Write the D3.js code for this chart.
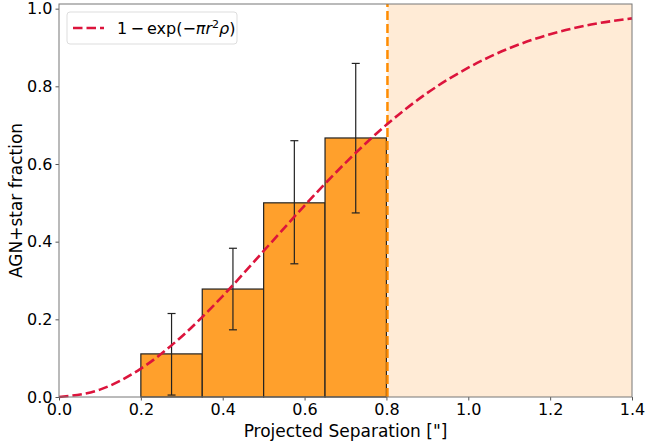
<!DOCTYPE html>
<html>
<head>
<meta charset="utf-8">
<script src="https://cdn.jsdelivr.net/npm/d3@7"></script>
<style>
  body { margin: 0; background: #fff; }
  svg text { font-family: "DejaVu Sans", sans-serif; fill: #000; }
</style>
</head>
<body>
<div class="chart"></div>
<script>
// Histogram bins (projected separation, arcsec)
var bin_edges = [0.2, 0.35, 0.5, 0.65, 0.8];
var bin_fraction = [0.111, 0.278, 0.5, 0.667];
var err_low = [0.005, 0.173, 0.343, 0.474];
var err_high = [0.215, 0.383, 0.66, 0.859];

// Chance-alignment curve
var curve_r = [0, 0.1, 0.2, 0.3, 0.4, 0.5, 0.6, 0.7, 0.8, 0.9, 1.0, 1.1, 1.2, 1.3, 1.4];
var curve_f = [0, 0.019, 0.073, 0.156, 0.26, 0.376, 0.493, 0.603, 0.701, 0.783, 0.848, 0.898, 0.934, 0.959, 0.975];

var cut_r = 0.8025; // resolution limit
var x_ticks = [0.0, 0.2, 0.4, 0.6, 0.8, 1.0, 1.2, 1.4];
var y_ticks = [0.0, 0.2, 0.4, 0.6, 0.8, 1.0];

var W = 648, H = 445;
var M = {left: 59, right: 16, top: 4, bottom: 48};

var svg = d3.select(".chart").append("svg")
    .attr("width", W)
    .attr("height", H);

var x = d3.scaleLinear().domain([0, 1.4]).range([M.left, W - M.right]);
var y = d3.scaleLinear().domain([0, 1.012]).range([H - M.bottom, M.top]);

// shaded region beyond the cut
svg.append("rect")
    .attr("x", x(cut_r))
    .attr("y", y(1.012))
    .attr("width", x(1.4) - x(cut_r))
    .attr("height", y(0) - y(1.012))
    .attr("fill", "#ffebd6");

// bars
svg.selectAll("rect.bar").data(bin_fraction).enter().append("rect")
    .attr("class", "bar")
    .attr("x", function (d, i) { return x(bin_edges[i]); })
    .attr("y", function (d) { return y(d); })
    .attr("width", function (d, i) { return x(bin_edges[i + 1]) - x(bin_edges[i]); })
    .attr("height", function (d) { return y(0) - y(d); })
    .attr("fill", "#ffa02c")
    .attr("stroke", "#222")
    .attr("stroke-width", 1.2);

// error bars
var err_g = svg.append("g").attr("stroke", "#222").attr("stroke-width", 1.2);
bin_fraction.forEach(function (d, i) {
    var cx = x((bin_edges[i] + bin_edges[i + 1]) / 2);
    err_g.append("line").attr("x1", cx).attr("x2", cx)
        .attr("y1", y(err_low[i])).attr("y2", y(err_high[i]));
    [err_low[i], err_high[i]].forEach(function (v) {
        err_g.append("line").attr("x1", cx - 4).attr("x2", cx + 4)
            .attr("y1", y(v)).attr("y2", y(v));
    });
});

// vertical dashed cut line
svg.append("line")
    .attr("x1", x(cut_r)).attr("x2", x(cut_r))
    .attr("y1", y(0)).attr("y2", y(1.012))
    .attr("stroke", "#ff8c00")
    .attr("stroke-width", 2.5)
    .attr("stroke-dasharray", "9,4");

// curve
var line = d3.line()
    .x(function (d, i) { return x(curve_r[i]); })
    .y(function (d) { return y(d); })
    .curve(d3.curveMonotoneX);

svg.append("path")
    .datum(curve_f)
    .attr("d", line)
    .attr("fill", "none")
    .attr("stroke", "#dc143c")
    .attr("stroke-width", 2.6)
    .attr("stroke-dasharray", "9.5,4");

// axes
var xAxis = svg.append("g")
    .attr("transform", "translate(0," + y(0) + ")")
    .call(d3.axisBottom(x).tickValues(x_ticks).tickFormat(d3.format(".1f")).tickSizeOuter(0).tickSize(3.5).tickPadding(3));
var yAxis = svg.append("g")
    .attr("transform", "translate(" + x(0) + ",0)")
    .call(d3.axisLeft(y).tickValues(y_ticks).tickFormat(d3.format(".1f")).tickSizeOuter(0).tickSize(3.5).tickPadding(3));

[xAxis, yAxis].forEach(function (a) {
    a.selectAll("text").style("font-size", "16px").attr("fill", "#000");
    a.selectAll("line").attr("stroke", "#555");
    a.select(".domain").remove();
});

// frame
svg.append("rect")
    .attr("x", x(0)).attr("y", y(1.012))
    .attr("width", x(1.4) - x(0))
    .attr("height", y(0) - y(1.012))
    .attr("fill", "none")
    .attr("stroke", "#777")
    .attr("stroke-width", 1);

// axis labels
svg.append("text")
    .attr("x", (x(0) + x(1.4)) / 2)
    .attr("y", 437)
    .attr("text-anchor", "middle")
    .style("font-size", "17px")
    .text("Projected Separation [\"]");

svg.append("text")
    .attr("transform", "translate(22," + (y(0) + y(1.012)) / 2 + ") rotate(-90)")
    .attr("text-anchor", "middle")
    .style("font-size", "17px")
    .text("AGN+star fraction");

// legend
var leg = svg.append("g").attr("transform", "translate(67,12)");
leg.append("rect")
    .attr("width", 170).attr("height", 32).attr("rx", 3)
    .attr("fill", "#fff").attr("fill-opacity", 0.8)
    .attr("stroke", "#ddd");
leg.append("line")
    .attr("x1", 6).attr("x2", 37).attr("y1", 16).attr("y2", 16)
    .attr("stroke", "#dc143c").attr("stroke-width", 2.6)
    .attr("stroke-dasharray", "9.5,4");
var lt = leg.append("text").attr("x", 50).attr("y", 22).style("font-size", "16px");
lt.append("tspan").text("1\u2009\u2212\u2009exp(\u2212");
lt.append("tspan").style("font-style", "italic").text("\u03c0r");
lt.append("tspan").attr("dy", -6).style("font-size", "11px").text("2");
lt.append("tspan").attr("dy", 6).style("font-style", "italic").text("\u03c1");
lt.append("tspan").text(")");
</script>
</body>
</html>
